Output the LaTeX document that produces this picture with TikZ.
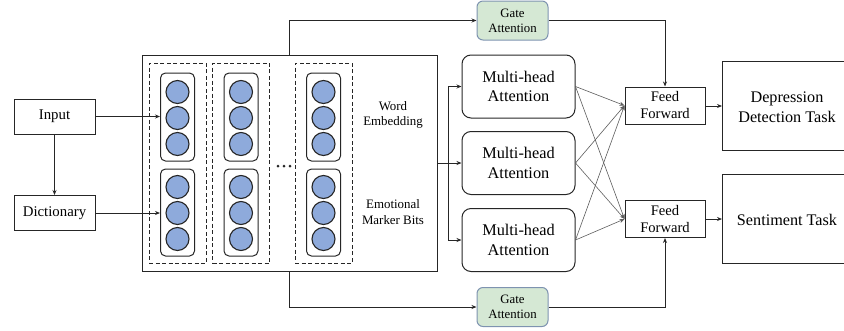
\documentclass[tikz,border=0pt]{standalone}
\usepackage{fontspec}
\setmainfont{Liberation Serif}
\usetikzlibrary{arrows.meta}
\definecolor{circfill}{HTML}{8EAADB}
\definecolor{gatefill}{HTML}{D5E8D4}
\definecolor{gatedraw}{HTML}{7E93B0}
\definecolor{ln}{HTML}{262626}
\tikzset{
  x=1pt,y=-1pt,
  every path/.style={line width=1pt},
  mha/.style={draw=ln, rounded corners=9pt, minimum width=113pt, minimum height=63pt, align=center, font=\fontsize{16.3}{19.5}\selectfont, inner sep=0pt, line width=1pt},
  ffbox/.style={draw=ln, minimum width=80pt, minimum height=37pt, align=center, font=\fontsize{14.6}{17}\selectfont, inner sep=0pt},
  gatebox/.style={draw=gatedraw, fill=gatefill, rounded corners=6pt, minimum width=71pt, minimum height=39pt, align=center, font=\fontsize{12.8}{15}\selectfont, inner sep=0pt},
  inbox/.style={draw=ln, minimum width=81pt, minimum height=35pt, font=\fontsize{14.8}{17}\selectfont, inner sep=0pt},
  dot/.style={circle, draw=ln, fill=circfill, minimum size=23pt, inner sep=0pt, line width=1.1pt},
  colbox/.style={draw=ln, rounded corners=5pt, line width=1pt},
  dashbox/.style={draw=ln, dash pattern=on 4pt off 2.5pt, line width=1pt},
  arr/.style={draw=ln, -{Stealth[length=5pt,width=4pt]}},
  thin arr/.style={draw=ln!75, line width=0.6pt, -{Stealth[length=5pt,width=4pt]}},
  lbl/.style={align=center, font=\fontsize{12.9}{15.5}\selectfont},
  tasklbl/.style={align=center, font=\fontsize{16.2}{19.5}\selectfont},
  smalldot/.style={circle, fill=ln, minimum size=3pt, inner sep=0pt},
}
\begin{document}
\begin{tikzpicture}
\useasboundingbox (0,0) rectangle (844,330);
% left inputs
\node[inbox] (input) at (54.5,116.5) {Input};
\node[inbox] (dict) at (54.5,213) {Dictionary};
% big embedding box
\node[draw=ln, minimum width=295pt, minimum height=216pt, inner sep=0pt] (emb) at (289.5,163) {};
% dashed columns
\foreach \i/\x in {1/177.5,2/241,3/323.5}{
  \node[dashbox, minimum width=57pt, minimum height=200pt, inner sep=0pt] (dc\i) at (\x,163) {};
  \node[colbox, minimum width=34pt, minimum height=88pt, inner sep=0pt] (top\i) at (\x,117) {};
  \node[colbox, minimum width=34pt, minimum height=87pt, inner sep=0pt] (bot\i) at (\x,212.5) {};
  \foreach \j/\y in {a/92,b/118,c/144,d/187,e/213,f/239}{
    \node[dot] (c\i\j) at (\x,\y) {};
  }
}
\node[smalldot] (d1) at (278,166) {};
\node[smalldot] (d2) at (284,166) {};
\node[smalldot] (d3) at (290,166) {};
\node[lbl] (we) at (393,115) {Word\\Embedding};
\node[lbl] (emb2) at (393,212) {Emotional\\Marker Bits};
% input arrows
\draw[arr] (input) -- (top1.west |- input);
\draw[arr] (dict) -- (bot1.west |- dict);
\draw[arr] (input) -- (dict);
% gates
\node[gatebox] (g1) at (512.5,20.5) {Gate\\Attention};
\node[gatebox] (g2) at (512.5,307) {Gate\\Attention};
\coordinate (gt) at (289,55);
\coordinate (gb) at (289,271);
\draw[arr] (gt) |- (g1);
\draw[arr] (gb) |- (g2);
% MHA
\node[mha] (m1) at (518.5,86.5) {Multi-head\\Attention};
\node[mha] (m2) at (518.5,163) {Multi-head\\Attention};
\node[mha] (m3) at (518.5,240) {Multi-head\\Attention};
\coordinate (br) at (448,163);
\draw[ln] (emb.east |- br) -- (br);
\draw[arr] (br) |- (m1);
\draw[arr] (br) -- (m2);
\draw[arr] (br) |- (m3);
% Feed forward
\node[ffbox] (f1) at (665,105.5) {Feed\\Forward};
\node[ffbox] (f2) at (665,219) {Feed\\Forward};
\foreach \m in {m1,m2,m3}{
  \draw[thin arr] (\m.east) -- (f1.west);
  \draw[thin arr] (\m.east) -- (f2.west);
}
\draw[arr] (g1.east) -| (f1.north);
\draw[arr] (g2.east) -| (f2.south);
% tasks
\draw[ln] (850,61) -- (722,61) -- (722,150) -- (850,150);
\draw[ln] (850,174) -- (722,174) -- (722,263) -- (850,263);
\node[tasklbl] (t1) at (787,107) {Depression\\Detection Task};
\node[tasklbl] (t2) at (787,219.5) {Sentiment Task};
\coordinate (t1w) at (722,106);
\coordinate (t2w) at (722,219);
\draw[arr] (f1.east |- t1w) -- (t1w);
\draw[arr] (f2.east |- t2w) -- (t2w);
\end{tikzpicture}
\end{document}
